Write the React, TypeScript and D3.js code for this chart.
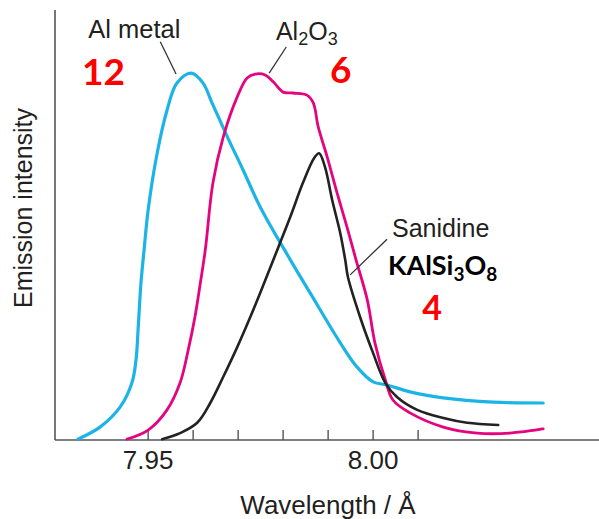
import * as d3 from 'd3';

// wavelength (Å) and emission intensity (arbitrary units, 0-100)
const alMetalWl = [7.9344, 7.9393, 7.9438, 7.9464, 7.9473, 7.9478, 7.9484, 7.9491, 7.95, 7.952, 7.9542, 7.9564, 7.9596, 7.9622, 7.9642, 7.9676, 7.9711, 7.9749, 7.9816, 7.986, 7.9927, 7.9964, 8.0, 8.0031, 8.0082, 8.0156, 8.0267, 8.0378];
const alMetalI = [0.2, 3.0, 7.7, 13.3, 18.6, 26.3, 36.5, 44.2, 53.5, 66.7, 76.7, 83.0, 85.3, 83.0, 78.4, 70.5, 62.8, 54.2, 41.9, 34.2, 22.6, 17.0, 13.5, 12.8, 11.2, 9.8, 8.8, 8.6];

const al2o3Wl = [7.9453, 7.95, 7.9542, 7.9571, 7.9589, 7.9604, 7.9616, 7.9627, 7.9644, 7.9667, 7.9698, 7.972, 7.9738, 7.976, 7.9778, 7.98, 7.9822, 7.9853, 7.9867, 7.9878, 7.9898, 7.992, 7.9942, 7.9962, 7.9987, 8.0004, 8.0027, 8.0044, 8.0082, 8.0156, 8.0231, 8.0304, 8.0378];
const al2o3I = [0.2, 2.3, 7.0, 13.3, 20.9, 28.6, 36.5, 44.2, 59.8, 70.5, 79.8, 84.2, 85.1, 84.9, 83.3, 80.9, 80.7, 80.2, 78.4, 72.8, 65.8, 57.4, 49.5, 41.9, 32.6, 22.6, 14.0, 9.3, 6.3, 3.0, 1.6, 1.6, 2.6];

const sanidineWl = [7.9531, 7.9571, 7.9609, 7.9638, 7.9667, 7.9698, 7.9727, 7.9749, 7.9787, 7.9816, 7.9844, 7.9869, 7.988, 7.9893, 7.9909, 7.9927, 7.9938, 7.9944, 7.9971, 8.0, 8.0027, 8.0053, 8.0098, 8.0156, 8.0209, 8.0278];
const sanidineI = [0.2, 1.6, 4.0, 8.6, 14.7, 21.6, 28.6, 34.2, 44.2, 51.9, 59.8, 65.6, 66.7, 63.5, 55.8, 48.1, 41.9, 37.9, 28.6, 20.2, 13.3, 10.0, 7.0, 5.1, 4.0, 3.5];

const tickValues = [7.95, 7.96, 7.97, 7.98, 7.99, 8.0, 8.01];
const tickLabels = ['7.95', '', '', '', '', '8.00', ''];

const W = 599;
const H = 519;
const x = d3.scaleLinear().domain([7.9293, 8.0502]).range([55, 599]);
const y = d3.scaleLinear().domain([0, 100]).range([440, 10]);

const line = d3.line<[number, number]>()
  .x(d => x(d[0]))
  .y(d => y(d[1]))
  .curve(d3.curveCatmullRom.alpha(0.5));

const zip = (a: number[], b: number[]) => a.map((v, i) => [v, b[i]] as [number, number]);

const series = [
  { name: 'Al metal', wl: alMetalWl, val: alMetalI, color: '#1cb4e6', width: 3.2 },
  { name: 'Al2O3', wl: al2o3Wl, val: al2o3I, color: '#e5047f', width: 2.8 },
  { name: 'Sanidine', wl: sanidineWl, val: sanidineI, color: '#222222', width: 2.6 },
];

// leader lines, in data space: [wl1, i1, wl2, i2]
const leaders = [
  [7.9527, 92.6, 7.9562, 85.1],
  [7.9807, 91.4, 7.9769, 85.3],
  [8.0031, 46.7, 7.9949, 38.4],
];

const helv = '"Liberation Sans", Arial, Helvetica, sans-serif';
const calib = 'Lato, "Open Sans", sans-serif';
const ink = '#231f20';

export default function App() {
  return (
    <div style={{ position: 'absolute', left: 0, top: 0 }}>
      <svg width={W} height={H} style={{ display: 'block', background: '#fff' }}>
        {/* axes */}
        <line x1={x.range()[0]} x2={x.range()[0]} y1={y(100)} y2={y(0)} stroke="#555" strokeWidth={1.6} />
        <line x1={x.range()[0]} x2={x.range()[1]} y1={y(0)} y2={y(0)} stroke="#555" strokeWidth={1.6} />
        {tickValues.map((t, i) => (
          <g key={t}>
            <line x1={x(t)} x2={x(t)} y1={y(0)} y2={y(0) - 10} stroke="#555" strokeWidth={1.4} />
            {tickLabels[i] && (
              <text x={x(t)} y={y(0) + 29} textAnchor="middle" fontFamily={helv} fontSize={26} fill={ink}>
                {tickLabels[i]}
              </text>
            )}
          </g>
        ))}
        <text x={328} y={514} textAnchor="middle" fontFamily={helv} fontSize={26} fill={ink}>
          Wavelength / Å
        </text>
        <text transform="translate(32,208) rotate(-90)" textAnchor="middle" fontFamily={helv} fontSize={25} fill={ink}>
          Emission intensity
        </text>

        {/* spectra */}
        {series.map(s => (
          <path key={s.name} d={line(zip(s.wl, s.val)) || ''} fill="none" stroke={s.color}
            strokeWidth={s.width} strokeLinejoin="round" strokeLinecap="round" />
        ))}

        {/* leaders */}
        {leaders.map((l, i) => (
          <line key={i} x1={x(l[0])} y1={y(l[1])} x2={x(l[2])} y2={y(l[3])} stroke="#333" strokeWidth={1.3} />
        ))}

        {/* labels */}
        <text x={x(7.9367)} y={y(93.5)} fontFamily={helv} fontSize={25.5} fill={ink}>Al metal</text>
        <text x={x(7.9784)} y={y(93.0)} fontFamily={helv} fontSize={25} fill={ink}>
          Al<tspan fontSize={18} dy={5}>2</tspan><tspan dy={-5}>O</tspan><tspan fontSize={18} dy={5}>3</tspan>
        </text>
        <text x={x(8.0042)} y={y(47.2)} fontFamily={helv} fontSize={25} fill={ink}>Sanidine</text>
        <text x={x(8.0033)} y={y(38.4)} fontFamily={calib} fontWeight={700} fontSize={27} fill="#000">
          KAlSi<tspan fontSize={19} dy={6}>3</tspan><tspan dy={-6}>O</tspan><tspan fontSize={19} dy={6}>8</tspan>
        </text>

        <text x={x(7.9353)} y={y(82.6)} fontFamily={calib} fontWeight={700} fontSize={37} fill="#ff0000">12</text>
        <text x={x(7.9904)} y={y(83.0)} fontFamily={calib} fontWeight={700} fontSize={37} fill="#ff0000">6</text>
        <text x={x(8.0109)} y={y(27.9)} fontFamily={calib} fontWeight={700} fontSize={34} fill="#ff0000">4</text>
      </svg>
    </div>
  );
}
